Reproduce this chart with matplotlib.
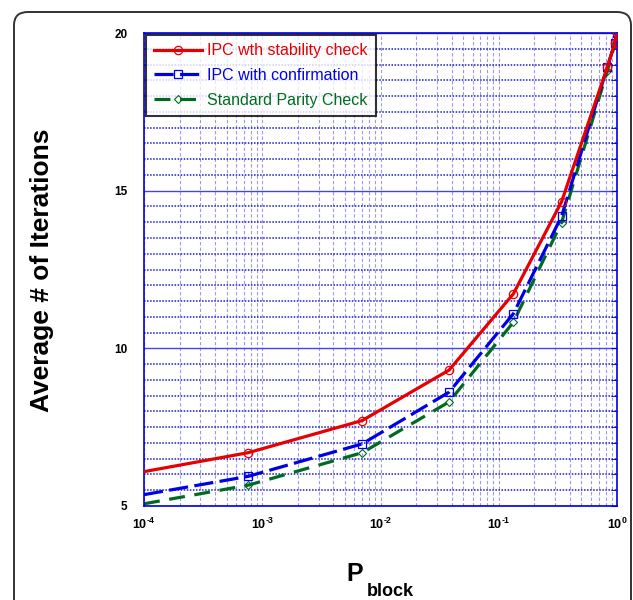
import matplotlib
matplotlib.use("Agg")
import matplotlib.pyplot as plt
from matplotlib.patches import FancyBboxPatch
from matplotlib.ticker import FixedLocator, MultipleLocator, LogLocator, NullFormatter

plt.rcParams["font.family"] = ["Liberation Sans", "DejaVu Sans"]
plt.rcParams["mathtext.fontset"] = "custom"
plt.rcParams["mathtext.rm"] = "Liberation Sans:bold"
plt.rcParams["mathtext.bf"] = "Liberation Sans:bold"

# P_block values and average iteration counts
p_block = [1e-4, 7.6e-4, 7.0e-3, 0.038, 0.133, 0.34, 0.83, 0.96, 1.0]
iters_stability = [6.09, 6.69, 7.71, 9.31, 11.73, 14.65, 18.93, 19.69, 20.0]
iters_confirm = [5.36, 5.94, 6.97, 8.61, 11.10, 14.19, 18.93, 19.69, 20.0]
iters_standard = [5.07, 5.66, 6.69, 8.30, 10.83, 13.99, 18.81, 19.66, 20.0]

labels = ["IPC wth stability check", "IPC with confirmation", "Standard Parity Check"]
colors = ["#e60000", "#0000e6", "#006b1f"]
xtick_vals = [1e-4, 1e-3, 1e-2, 1e-1, 1.0]
xtick_exps = ["\u20104", "\u20103", "\u20102", "\u20101", "0"]

fig = plt.figure(figsize=(6.33, 6.0), dpi=100)
ax = fig.add_axes([144 / 633, 1 - 506 / 600, 473 / 633, 473 / 600])

# rounded frame around the whole figure (bottom runs off the page)
frame = FancyBboxPatch((14 / 633, -0.1), 631 / 633 - 14 / 633, 1.1 - 12 / 600,
                       boxstyle="round,pad=0,rounding_size=0.022",
                       transform=fig.transFigure, facecolor="none",
                       edgecolor="#333333", linewidth=1.4, zorder=-1)
fig.patches.append(frame)

skip_first = list(range(1, len(p_block)))
ax.plot(p_block, iters_stability, color=colors[0], lw=2.3, marker="o", ms=6,
        mfc="none", mec=colors[0], mew=0.9, markevery=skip_first,
        label=labels[0], zorder=4)
ax.plot(p_block, iters_confirm, color=colors[1], lw=2.3, marker="s", ms=6,
        mfc="none", mec=colors[1], mew=0.9, dashes=(6, 2), markevery=skip_first,
        label=labels[1], zorder=3)
ax.plot(p_block, iters_standard, color=colors[2], lw=2.3, marker="D", ms=4,
        mfc="none", mec=colors[2], mew=0.8, dashes=(5, 3), markevery=skip_first,
        label=labels[2], zorder=2)

ax.set_xscale("log")
ax.set_xlim(1e-4, 1.0)
ax.set_ylim(5, 20)

ax.yaxis.set_major_locator(FixedLocator([5, 10, 15, 20]))
ax.yaxis.set_minor_locator(MultipleLocator(0.5))
ax.xaxis.set_minor_locator(LogLocator(base=10, subs=range(2, 10), numticks=20))
ax.xaxis.set_minor_formatter(NullFormatter())
ax.set_xticks(xtick_vals)
ax.set_xticklabels([r"$\mathbf{10}^{\mathbf{%s}}$" % e for e in xtick_exps])
ax.set_yticklabels(["5", "10", "15", "20"])

ax.grid(which="major", axis="y", color="#4444ee", lw=1.0, ls="-")
ax.grid(which="minor", axis="y", color="#1a1acc", lw=1.1, ls=(0, (1, 1)))
ax.grid(which="both", axis="x", color="#9a9af0", lw=0.8, ls=(0, (3, 2)))
ax.set_axisbelow(True)

for sp in ax.spines.values():
    sp.set_color("#0000dd")
    sp.set_linewidth(1.2)

ax.tick_params(axis="both", which="both", direction="in", color="#0000dd",
               left=False, bottom=False, right=True)
ax.tick_params(axis="y", which="both", length=4)
ax.tick_params(axis="y", which="major", labelsize=8.5, pad=12)
ax.tick_params(axis="x", which="major", labelsize=9, pad=8)
for t in ax.get_yticklabels():
    t.set_fontweight("bold")

fig.text(42 / 633, 1 - 270 / 600, "Average # of Iterations", fontsize=19,
         fontweight="bold", rotation=90, ha="center", va="center")

fig.text(355 / 633, 1 - 574 / 600, "P", fontsize=18, fontweight="bold",
         ha="center", va="center")
fig.text(390 / 633, 1 - 591 / 600, "block", fontsize=13, fontweight="bold",
         ha="center", va="center")

leg = ax.legend(loc="upper left", fontsize=11.5, handlelength=3.0, frameon=True,
                fancybox=False, borderaxespad=0.1, labelspacing=0.6,
                borderpad=0.55, handletextpad=0.3)
leg.get_frame().set_edgecolor("black")
leg.get_frame().set_linewidth(1.5)
for txt, c in zip(leg.get_texts(), colors):
    txt.set_color(c)

fig.savefig("out.png", dpi=100)
